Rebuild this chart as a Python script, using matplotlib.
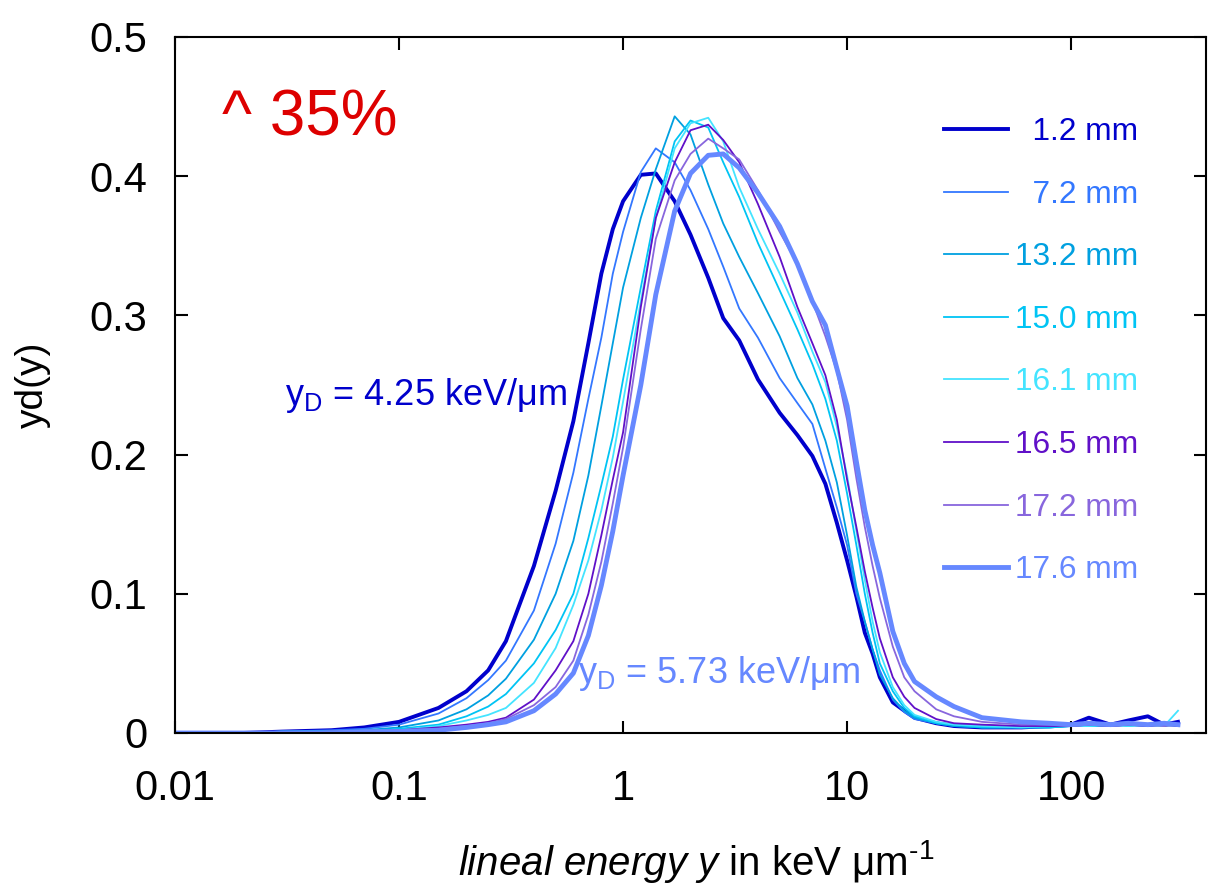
import numpy as np
import matplotlib
matplotlib.use('Agg')
from matplotlib import pyplot as plt
from matplotlib.ticker import FuncFormatter, FixedLocator

plt.rcParams['font.family'] = ['Liberation Sans', 'DejaVu Sans']
plt.rcParams['mathtext.fontset'] = 'custom'
plt.rcParams['mathtext.rm'] = 'Liberation Sans'
plt.rcParams['mathtext.it'] = 'Liberation Sans:italic'
plt.rcParams['mathtext.bf'] = 'Liberation Sans:bold'

# lineal energy grid (keV/um)
y_energy = [0.01, 0.02, 0.03, 0.05, 0.07, 0.1, 0.15, 0.2, 0.25, 0.3,
            0.4, 0.5, 0.6, 0.7, 0.8, 0.9, 1.0, 1.2, 1.4, 1.7,
            2.0, 2.4, 2.8, 3.3, 4.0, 5.0, 6.0, 7.0, 8.0, 9.0,
            10, 11, 12, 13, 14, 16, 18, 20, 25, 30,
            40, 60, 80, 100, 120, 150, 180, 220, 260, 300]

depths = ['  1.2 mm', '  7.2 mm', '13.2 mm', '15.0 mm', '16.1 mm', '16.5 mm', '17.2 mm', '17.6 mm']
colors = ['#0000cc', '#3377ff', '#00a0e0', '#00c4f4', '#44e4ff', '#6010c8', '#8866dd', '#6688ff']
widths = [2.8, 1.3, 1.3, 1.3, 1.3, 1.3, 1.3, 3.5]

yd_12 = [0, 0, 0.001, 0.002, 0.004, 0.008, 0.018, 0.03, 0.045, 0.066,
         0.12, 0.174, 0.224, 0.28, 0.33, 0.362, 0.382, 0.401, 0.402, 0.382,
         0.358, 0.327, 0.298, 0.282, 0.254, 0.23, 0.214, 0.199, 0.179, 0.151,
         0.124, 0.098, 0.072, 0.057, 0.04, 0.022, 0.016, 0.011, 0.007, 0.005,
         0.004, 0.004, 0.005, 0.006, 0.011, 0.006, 0.009, 0.012, 0.006, 0.008]
yd_72 = [0, 0, 0.001, 0.002, 0.003, 0.006, 0.014, 0.025, 0.038, 0.052,
         0.088, 0.136, 0.187, 0.24, 0.284, 0.33, 0.36, 0.403, 0.42, 0.41,
         0.39, 0.362, 0.335, 0.305, 0.284, 0.255, 0.237, 0.222, 0.19, 0.162,
         0.135, 0.1, 0.08, 0.06, 0.045, 0.024, 0.015, 0.01, 0.007, 0.005,
         0.004, 0.004, 0.004, 0.005, 0.006, 0.005, 0.006, 0.005, 0.007, 0.006]
yd_132 = [0, 0, 0.001, 0.001, 0.002, 0.004, 0.009, 0.017, 0.027, 0.039,
          0.067, 0.1, 0.138, 0.185, 0.235, 0.28, 0.32, 0.37, 0.405, 0.443,
          0.43, 0.394, 0.366, 0.342, 0.316, 0.285, 0.255, 0.236, 0.21, 0.18,
          0.142, 0.105, 0.08, 0.06, 0.042, 0.025, 0.016, 0.011, 0.007, 0.005,
          0.004, 0.004, 0.004, 0.005, 0.005, 0.006, 0.005, 0.006, 0.005, 0.006]
yd_150 = [0, 0, 0.001, 0.001, 0.001, 0.003, 0.006, 0.012, 0.019, 0.028,
          0.05, 0.074, 0.1, 0.14, 0.178, 0.213, 0.254, 0.32, 0.375, 0.425,
          0.44, 0.435, 0.41, 0.385, 0.352, 0.318, 0.29, 0.265, 0.24, 0.21,
          0.172, 0.135, 0.1, 0.072, 0.05, 0.03, 0.018, 0.012, 0.007, 0.006,
          0.004, 0.004, 0.004, 0.005, 0.005, 0.005, 0.006, 0.005, 0.006, 0.005]
yd_161 = [0, 0, 0, 0.001, 0.001, 0.002, 0.005, 0.009, 0.013, 0.018,
          0.036, 0.061, 0.092, 0.124, 0.16, 0.198, 0.238, 0.31, 0.37, 0.42,
          0.438, 0.442, 0.425, 0.392, 0.362, 0.33, 0.302, 0.274, 0.252, 0.22,
          0.185, 0.145, 0.11, 0.08, 0.058, 0.033, 0.02, 0.013, 0.008, 0.006,
          0.005, 0.004, 0.005, 0.005, 0.005, 0.006, 0.005, 0.006, 0.005, 0.016]
yd_165 = [0, 0, 0, 0.001, 0.001, 0.002, 0.004, 0.006, 0.008, 0.011,
          0.024, 0.045, 0.066, 0.1, 0.142, 0.182, 0.216, 0.306, 0.37, 0.41,
          0.433, 0.437, 0.426, 0.41, 0.38, 0.342, 0.306, 0.28, 0.257, 0.225,
          0.182, 0.148, 0.116, 0.09, 0.068, 0.04, 0.026, 0.018, 0.01, 0.007,
          0.006, 0.005, 0.005, 0.005, 0.006, 0.005, 0.006, 0.005, 0.006, 0.005]
yd_172 = [0, 0, 0, 0.001, 0.001, 0.002, 0.003, 0.005, 0.007, 0.01,
          0.02, 0.033, 0.052, 0.085, 0.123, 0.165, 0.205, 0.29, 0.355, 0.397,
          0.416, 0.427, 0.42, 0.412, 0.39, 0.36, 0.337, 0.31, 0.285, 0.26,
          0.225, 0.183, 0.148, 0.12, 0.097, 0.062, 0.04, 0.03, 0.017, 0.012,
          0.008, 0.006, 0.006, 0.005, 0.006, 0.005, 0.006, 0.006, 0.005, 0.006]
yd_176 = [0, 0, 0, 0, 0.001, 0.001, 0.002, 0.004, 0.006, 0.008,
          0.016, 0.028, 0.043, 0.07, 0.106, 0.145, 0.185, 0.25, 0.315, 0.375,
          0.402, 0.415, 0.416, 0.406, 0.388, 0.364, 0.337, 0.31, 0.293, 0.262,
          0.235, 0.195, 0.16, 0.135, 0.115, 0.073, 0.05, 0.037, 0.026, 0.019,
          0.011, 0.008, 0.007, 0.006, 0.007, 0.006, 0.007, 0.006, 0.007, 0.006]

series = [yd_12, yd_72, yd_132, yd_150, yd_161, yd_165, yd_172, yd_176]

fig = plt.figure(figsize=(12.16, 8.93), dpi=100)
ax = fig.add_axes([175/1216, 1-733/893, 1031/1216, 696/893])

for vals, lab, c, w in zip(series, depths, colors, widths):
    ax.plot(y_energy, vals, color=c, lw=w, label=lab)

ax.set_xscale('log')
ax.set_xlim(0.01, 400)
ax.set_ylim(0, 0.5)
ax.xaxis.set_major_locator(FixedLocator([0.01, 0.1, 1, 10, 100]))
ax.xaxis.set_minor_locator(FixedLocator([]))
ax.set_yticks([0, 0.1, 0.2, 0.3, 0.4, 0.5])
fmt = FuncFormatter(lambda v, p: '%g' % v)
ax.xaxis.set_major_formatter(fmt)
ax.yaxis.set_major_formatter(fmt)
ax.tick_params(which='major', direction='in', length=9, width=1.5,
               top=True, right=True, labelsize=30)
ax.tick_params(axis='x', pad=26)
ax.tick_params(axis='y', pad=20)
for s in ax.spines.values():
    s.set_linewidth(1.5)

ax.set_xlabel(r'$\mathit{lineal\ energy\ y}$ in keV μm$^{\text{-1}}$', fontsize=29)
ax.xaxis.label.set_va('center')
ax.xaxis.set_label_coords(0.506, -0.185)
ax.set_ylabel('yd(y)', fontsize=28)
ax.yaxis.label.set_va('center')
ax.yaxis.set_label_coords(-0.138, 0.5)

leg = ax.legend(loc='upper right', bbox_to_anchor=(1138/1216, 1-117/893),
                bbox_transform=fig.transFigure, frameon=False, fontsize=22.8,
                labelcolor='linecolor', handlelength=2.05, handletextpad=0.2,
                labelspacing=1.03, borderpad=0, borderaxespad=0)

fig.text(222/1216, 1-135/893, '^ 35%', fontsize=46, color='#dd0000', va='baseline')
fig.text(285/1216, 1-405/893, r'y$_{\mathregular{D}}$ = 4.25 keV/μm', fontsize=26,
         color='#0000cc', va='baseline')
fig.text(578/1216, 1-683/893, r'y$_{\mathregular{D}}$ = 5.73 keV/μm', fontsize=26,
         color='#6688ff', va='baseline')

plt.savefig('out.png', dpi=100)
